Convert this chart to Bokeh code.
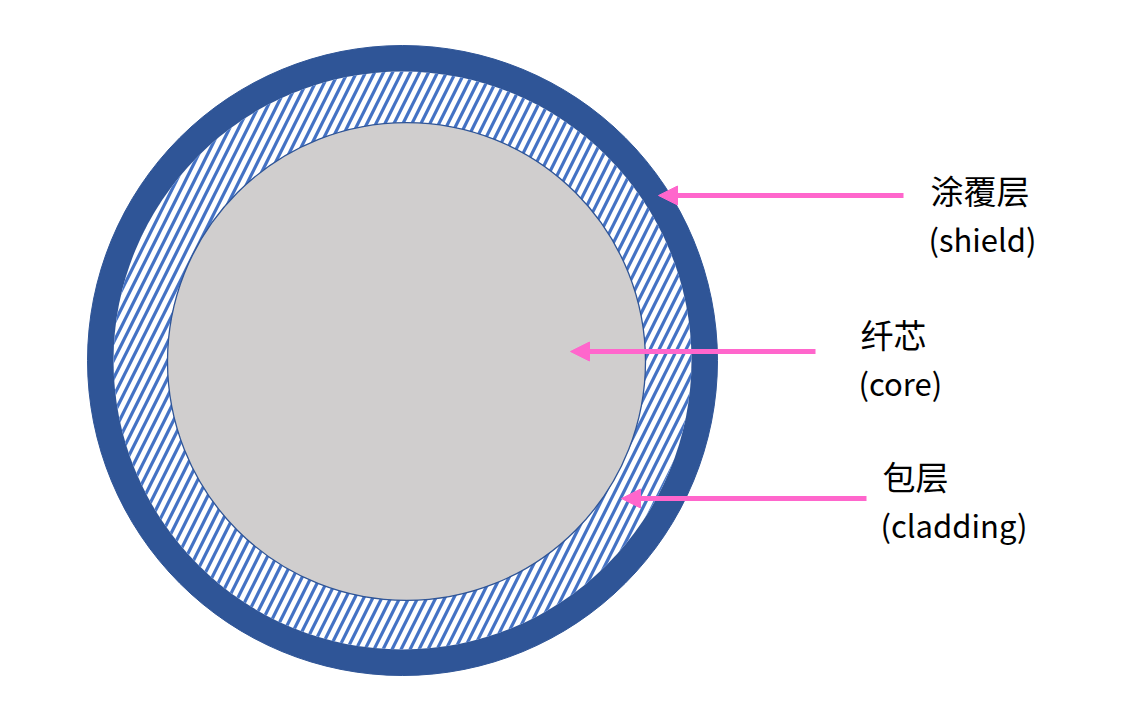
from bokeh.plotting import figure
from bokeh.models import Range1d, Arrow, NormalHead
from bokeh.core.properties import value
from bokeh.embed import file_html
from bokeh.resources import INLINE

# fibre cross-section (page pixel units)
center_x = 402
center_y = 360
layer_names = ["shield", "cladding", "core"]
layer_radii = [315, 289, 239]
core_center = [406, 361]

# labels and arrows pointing at each layer
labels_cn = ["涂覆层", "纤芯", "包层"]
labels_en = ["(shield)", "(core)", "(cladding)"]
label_x = [930, 860, 882]
label_y = [189, 333, 475]
arrow_tail_x = [903, 815, 866]
arrow_tip_x = [658, 570, 621]
arrow_y = [195, 351, 498]

DARK = "#2F5597"
HATCH = "#4472C4"
CORE = "#D0CECE"
PINK = "#FF66CC"
FONT = value("Noto Sans CJK SC")

p = figure(width=1112, height=711, output_backend="svg", toolbar_location=None,
           x_range=Range1d(0, 1112), y_range=Range1d(711, 0),
           min_border=0)
p.axis.visible = False
p.grid.visible = False
p.outline_line_color = None

# coating
p.circle([center_x], [center_y], radius=layer_radii[0],
         fill_color=DARK, line_color=DARK)
# cladding (hatched)
p.circle([center_x], [center_y], radius=layer_radii[1],
         fill_color="white", line_color=None,
         hatch_pattern="right_diagonal_line", hatch_color=HATCH,
         hatch_scale=18, hatch_weight=3.2)
# core
p.circle([core_center[0]], [core_center[1]], radius=layer_radii[2],
         fill_color=CORE, line_color=DARK, line_width=1.3)

for i in range(len(labels_cn)):
    p.add_layout(Arrow(x_start=arrow_tail_x[i], y_start=arrow_y[i],
                       x_end=arrow_tip_x[i], y_end=arrow_y[i],
                       line_color=PINK, line_width=5,
                       end=NormalHead(size=19, fill_color=PINK, line_color=PINK)))

p.text(label_x, label_y, text=labels_cn, text_font=FONT,
       text_font_size="33px", text_color="black", text_baseline="middle")
p.text([x - 2 for x in label_x], [y + 49 for y in label_y], text=labels_en,
       text_font=FONT, text_font_size="31px", text_color="black",
       text_baseline="middle")

open("out.html", "w").write(file_html(p, INLINE))
